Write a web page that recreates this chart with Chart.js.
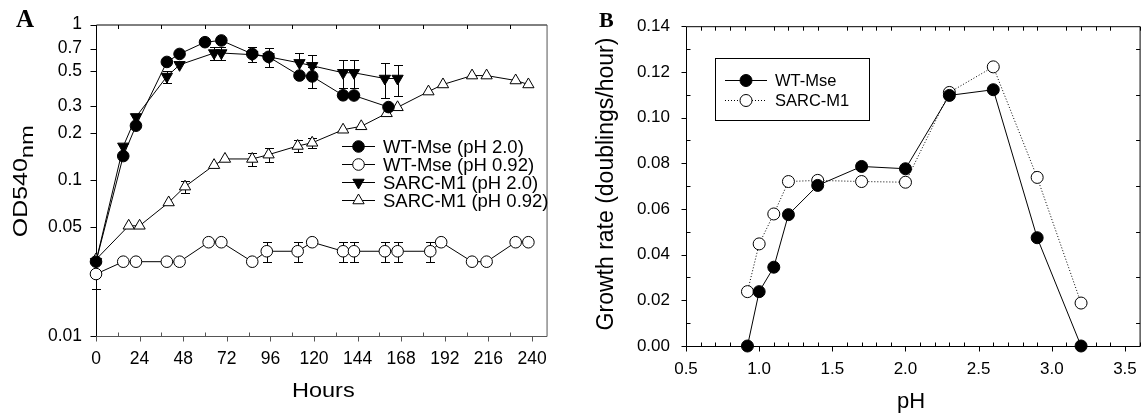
<!DOCTYPE html>
<html>
<head>
<meta charset="utf-8">
<script src="https://cdn.jsdelivr.net/npm/chart.js@4.4.1/dist/chart.umd.min.js"></script>
<style>
  html, body { margin: 0; padding: 0; background: #fff; overflow: hidden; }
  #cA { position: absolute; left: 0; top: 0; }
  #cB { position: absolute; left: 570px; top: 0; }
</style>
</head>
<body>
<canvas id="cA" width="560" height="416"></canvas>
<canvas id="cB" width="580" height="416"></canvas>
<script>
// Panel A: OD540 frente a horas
const horasWT2   = [0, 15, 22, 39, 46, 60, 69, 86, 95, 112, 119, 136, 142, 161];
const odWT2      = [0.030, 0.143, 0.224, 0.575, 0.647, 0.77, 0.79, 0.647, 0.62, 0.47, 0.464, 0.351, 0.35, 0.295];
const errWT2     = [0, 0, 0, 0, 0, 0, 0, 0.07, 0.09, 0, 0.07, 0, 0, 0];

const horasWT092 = [0, 15, 22, 39, 46, 62, 69, 86, 94, 111, 119, 136, 142, 159, 166, 184, 190, 207, 215, 231, 238];
const odWT092    = [0.025, 0.030, 0.030, 0.030, 0.030, 0.040, 0.040, 0.030, 0.035, 0.035, 0.040, 0.035, 0.035, 0.035, 0.035, 0.035, 0.040, 0.030, 0.030, 0.040, 0.040];
const errWT092   = [0.005, 0, 0, 0, 0, 0, 0, 0, 0.005, 0.005, 0, 0.005, 0.005, 0.005, 0.005, 0.005, 0, 0, 0, 0, 0];

const horasM12   = [0, 15, 22, 39, 46, 65, 69, 86, 95, 112, 119, 136, 142, 159, 166];
const odM12      = [0.030, 0.165, 0.255, 0.463, 0.551, 0.656, 0.656, 0.64, 0.62, 0.567, 0.543, 0.49, 0.49, 0.45, 0.45];
const errM12     = [0, 0, 0, 0.04, 0, 0.06, 0.065, 0, 0, 0.085, 0.09, 0.1, 0.1, 0.113, 0.1];

const horasM1092 = [0, 18, 24, 40, 49, 65, 71, 86, 95, 111, 119, 136, 146, 160, 166, 183, 191, 207, 215, 231, 238];
const odM1092    = [0.031, 0.051, 0.051, 0.072, 0.091, 0.125, 0.137, 0.137, 0.146, 0.166, 0.174, 0.211, 0.222, 0.269, 0.294, 0.371, 0.412, 0.47, 0.47, 0.437, 0.412];
const errM1092   = [0, 0, 0, 0, 0.0085, 0, 0, 0.0135, 0.015, 0.015, 0.013, 0, 0, 0, 0, 0, 0, 0, 0, 0, 0];

const ticksOD    = [0.01, 0.05, 0.1, 0.2, 0.3, 0.5, 0.7, 1];
const ticksHoras = [0, 24, 48, 72, 96, 120, 144, 168, 192, 216, 240];

// Panel B: tasa de crecimiento frente a pH
const phWT   = [0.92, 1.0, 1.1, 1.2, 1.4, 1.7, 2.0, 2.3, 2.6, 2.9, 3.2];
const tasaWT = [0.000, 0.0238, 0.0345, 0.0575, 0.0703, 0.0786, 0.0776, 0.1097, 0.1122, 0.0474, 0.000];
const phM1   = [0.92, 1.0, 1.1, 1.2, 1.4, 1.7, 2.0, 2.3, 2.6, 2.9, 3.2];
const tasaM1 = [0.0238, 0.0447, 0.0578, 0.0720, 0.0725, 0.0720, 0.0717, 0.1110, 0.1222, 0.0738, 0.0188];

const ticksPH   = [0.5, 1.0, 1.5, 2.0, 2.5, 3.0, 3.5];
const ticksTasa = [0, 0.02, 0.04, 0.06, 0.08, 0.10, 0.12, 0.14];

const FUENTE = '"Liberation Sans", Arial, sans-serif';
Chart.defaults.font.family = FUENTE;
Chart.defaults.color = '#000';
Chart.defaults.animation = false;

const puntos = (xs, ys) => xs.map((v, i) => ({ x: v, y: ys[i] }));

function marcar(ctx, estilo, x, y, r, relleno, giro) {
    ctx.save();
    ctx.beginPath();
    if (estilo === 'circle') {
        ctx.arc(x, y, r, 0, Math.PI * 2);
    } else {
        const s = giro ? -1 : 1;
        const dx = r * Math.sin(Math.PI * 2 / 3);
        ctx.moveTo(x, y - s * r);
        ctx.lineTo(x + dx, y + s * r * 0.5);
        ctx.lineTo(x - dx, y + s * r * 0.5);
        ctx.closePath();
    }
    ctx.fillStyle = relleno;
    ctx.fill();
    ctx.lineWidth = 1;
    ctx.strokeStyle = '#000';
    ctx.stroke();
    ctx.restore();
}

function dibujarErrores(chart) {
    const { ctx, scales: { x, y } } = chart;
    ctx.save();
    ctx.strokeStyle = '#000';
    ctx.lineWidth = 1;
    chart.data.datasets.forEach(ds => {
        if (!ds.errores) return;
        ds.data.forEach((p, i) => {
            const e = ds.errores[i];
            if (!e) return;
            const px = Math.round(x.getPixelForValue(p.x)) + 0.5;
            const y1 = Math.round(y.getPixelForValue(p.y + e)) + 0.5;
            const y2 = Math.round(y.getPixelForValue(Math.max(p.y - e, 1e-4))) + 0.5;
            ctx.beginPath();
            ctx.moveTo(px, y1); ctx.lineTo(px, y2);
            ctx.moveTo(px - 4.5, y1); ctx.lineTo(px + 4.5, y1);
            ctx.moveTo(px - 4.5, y2); ctx.lineTo(px + 4.5, y2);
            ctx.stroke();
        });
    });
    ctx.restore();
}

function linea(ctx, x1, y1, x2, y2) { ctx.moveTo(x1, y1); ctx.lineTo(x2, y2); }

// Marco y marcas del panel A
function marcoA(chart) {
    const { ctx, chartArea: a, scales: { x, y } } = chart;
    const L = a.left + 0.5, R = a.right + 0.5, T = a.top + 0.5, B = a.bottom + 0.5;
    ctx.save();
    ctx.lineWidth = 1;
    ctx.strokeStyle = '#000';
    ctx.beginPath();
    linea(ctx, L, T, R, T);
    linea(ctx, L, T, L, B);
    ticksOD.forEach(v => {
        const py = Math.round(y.getPixelForValue(v)) + 0.5;
        linea(ctx, L - 6, py, L, py);
    });
    for (let h = 12; h <= 240; h += 24) {
        const px = Math.round(x.getPixelForValue(h)) + 0.5;
        linea(ctx, px, T, px, T + 4);
    }
    ctx.stroke();
    ctx.strokeStyle = '#555';
    ctx.beginPath();
    linea(ctx, L, B, R, B);
    linea(ctx, R, T, R, B);
    for (let h = 0; h <= 240; h += 12) {
        const px = Math.round(x.getPixelForValue(h)) + 0.5;
        if (h % 24 === 0) linea(ctx, px, B, px, B + 5);
        else linea(ctx, px, B, px, B - 4);
    }
    ctx.stroke();
    ctx.restore();
}

function textosA(chart) {
    const { ctx, chartArea: a } = chart;
    ctx.save();
    ctx.fillStyle = '#000';
    // letra del panel
    ctx.font = 'bold 25px "Liberation Serif", serif';
    ctx.textBaseline = 'alphabetic';
    ctx.fillText('A', 16, 27);
    ctx.restore();

    // titulo eje x (algo ensanchado, como en el original)
    ctx.save();
    ctx.fillStyle = '#000';
    ctx.font = '21px ' + FUENTE;
    ctx.textAlign = 'center';
    ctx.translate((a.left + a.right) / 2 + 2, 397);
    ctx.scale(1.12, 1);
    ctx.fillText('Hours', 0, 0);
    ctx.restore();

    // titulo eje y con subindice
    ctx.save();
    ctx.fillStyle = '#000';
    ctx.translate(27, (a.top + a.bottom) / 2 + 1);
    ctx.rotate(-Math.PI / 2);
    ctx.textAlign = 'left';
    ctx.font = '20px ' + FUENTE;
    const w1 = ctx.measureText('OD540').width;
    ctx.font = '19px ' + FUENTE;
    const w2 = ctx.measureText('nm').width;
    const total = w1 + w2;
    ctx.scale(112 / total, 1);
    ctx.font = '20px ' + FUENTE;
    ctx.fillText('OD540', -total / 2, 0);
    ctx.font = '19px ' + FUENTE;
    ctx.fillText('nm', -total / 2 + w1, 6);
    ctx.restore();

    // leyenda
    const filas = [146, 164, 182, 200];
    ctx.save();
    ctx.font = '18.5px ' + FUENTE;
    ctx.textBaseline = 'middle';
    ctx.fillStyle = '#000';
    chart.data.datasets.forEach((ds, i) => {
        const yy = filas[i] + 0.5;
        ctx.beginPath();
        ctx.strokeStyle = '#000';
        ctx.lineWidth = 1;
        linea(ctx, 342, yy, 375, yy);
        ctx.stroke();
        marcar(ctx, ds.pointStyle, 358.5, yy, ds.pointRadius, ds.pointBackgroundColor, ds.pointRotation === 180);
        ctx.fillText(ds.label, 383, yy + 1);
    });
    ctx.restore();
}

// Marco y marcas del panel B
function marcoB(chart) {
    const { ctx, chartArea: a, scales: { x, y } } = chart;
    const L = a.left + 0.5, R = a.right + 0.5, T = a.top + 0.5, B = a.bottom + 0.5;
    ctx.save();
    ctx.lineWidth = 1;
    ctx.strokeStyle = '#000';
    ctx.beginPath();
    ctx.rect(L, T, R - L, B - T);
    for (let k = 5; k <= 36; k++) {
        const px = Math.round(x.getPixelForValue(k / 10)) + 0.5;
        if (k % 5 === 0) {
            linea(ctx, px, B, px, B + 5);
        } else {
            linea(ctx, px, B, px, B - 4);
            linea(ctx, px, T, px, T + 4);
        }
    }
    for (let k = 0; k <= 14; k++) {
        const py = Math.round(y.getPixelForValue(k / 100)) + 0.5;
        if (k % 2 === 0) {
            linea(ctx, L - 5, py, L, py);
        } else {
            linea(ctx, L, py, L + 4, py);
            linea(ctx, R, py, R - 4, py);
        }
    }
    ctx.stroke();
    ctx.restore();
}

function textosB(chart) {
    const { ctx } = chart;
    ctx.save();
    ctx.fillStyle = '#000';
    ctx.font = 'bold 22px "Liberation Serif", serif';
    ctx.fillText('B', 29, 27);
    ctx.font = '22px ' + FUENTE;
    ctx.textAlign = 'center';
    ctx.fillText('pH', 341, 408);
    ctx.translate(43, 184);
    ctx.rotate(-Math.PI / 2);
    ctx.font = '23px ' + FUENTE;
    ctx.fillText('Growth rate (doublings/hour)', 0, 0);
    ctx.restore();

    // leyenda con recuadro
    ctx.save();
    ctx.lineWidth = 1;
    ctx.strokeStyle = '#000';
    ctx.strokeRect(145.5, 58.5, 154, 62);
    ctx.font = '16.5px ' + FUENTE;
    ctx.textBaseline = 'middle';
    ctx.fillStyle = '#000';
    const filas = [80, 99.5];
    chart.data.datasets.forEach((ds, i) => {
        const yy = Math.round(filas[i]) + 0.5;
        ctx.beginPath();
        ctx.setLineDash(ds.borderDash || []);
        linea(ctx, 155, yy, 197, yy);
        ctx.stroke();
        ctx.setLineDash([]);
        marcar(ctx, 'circle', 176, yy, ds.pointRadius, ds.pointBackgroundColor, false);
        ctx.fillText(ds.label, 205, yy + 1);
    });
    ctx.restore();
}

const decorA = {
    id: 'decorA',
    beforeDatasetsDraw(chart) { marcoA(chart); dibujarErrores(chart); },
    afterDraw(chart) { textosA(chart); }
};
const decorB = {
    id: 'decorB',
    beforeDatasetsDraw(chart) { marcoB(chart); },
    afterDraw(chart) { textosB(chart); }
};

function serieA(label, xs, ys, errs, estilo, relleno, giro) {
    return {
        label: label,
        data: puntos(xs, ys),
        errores: errs,
        borderColor: '#000',
        borderWidth: 1,
        tension: 0,
        pointStyle: estilo,
        pointRotation: giro ? 180 : 0,
        pointRadius: estilo === 'circle' ? 5.8 : 6.5,
        pointBorderWidth: 1,
        pointBorderColor: '#000',
        pointBackgroundColor: relleno,
        clip: false
    };
}

new Chart(document.getElementById('cA'), {
    type: 'line',
    data: {
        datasets: [
            serieA('WT-Mse (pH 2.0)', horasWT2, odWT2, errWT2, 'circle', '#000', false),
            serieA('WT-Mse (pH 0.92)', horasWT092, odWT092, errWT092, 'circle', '#fff', false),
            serieA('SARC-M1 (pH 2.0)', horasM12, odM12, errM12, 'triangle', '#000', true),
            serieA('SARC-M1 (pH 0.92)', horasM1092, odM1092, errM1092, 'triangle', '#fff', false)
        ]
    },
    options: {
        responsive: false,
        layout: { padding: { left: 0, right: 12, top: 20, bottom: 0 } },
        plugins: { legend: { display: false }, tooltip: { enabled: false } },
        scales: {
            x: {
                type: 'linear', min: 0, max: 248,
                grid: { display: false, drawTicks: false }, border: { display: false },
                afterBuildTicks: s => { s.ticks = ticksHoras.map(v => ({ value: v })); },
                afterFit: s => { s.height = 80; },
                ticks: { font: { size: 17.5 }, padding: 13, maxRotation: 0, autoSkip: false }
            },
            y: {
                type: 'logarithmic', min: 0.01, max: 1,
                grid: { display: false, drawTicks: false }, border: { display: false },
                afterBuildTicks: s => { s.ticks = ticksOD.map(v => ({ value: v })); },
                afterFit: s => { s.width = 96; },
                ticks: { font: { size: 17.5 }, padding: 14, autoSkip: false, callback: v => String(v) }
            }
        }
    },
    plugins: [decorA]
});

new Chart(document.getElementById('cB'), {
    type: 'line',
    data: {
        datasets: [
            {
                label: 'WT-Mse', data: puntos(phWT, tasaWT),
                borderColor: '#000', borderWidth: 1, tension: 0,
                pointStyle: 'circle', pointRadius: 6, pointBorderWidth: 1,
                pointBorderColor: '#000', pointBackgroundColor: '#000', clip: false
            },
            {
                label: 'SARC-M1', data: puntos(phM1, tasaM1),
                borderColor: '#000', borderWidth: 1, borderDash: [1, 2], tension: 0,
                pointStyle: 'circle', pointRadius: 6, pointBorderWidth: 1,
                pointBorderColor: '#000', pointBackgroundColor: '#fff', clip: false
            }
        ]
    },
    options: {
        responsive: false,
        layout: { padding: { left: 0, right: 7, top: 25, bottom: 0 } },
        plugins: { legend: { display: false }, tooltip: { enabled: false } },
        scales: {
            x: {
                type: 'linear', min: 0.5, max: 3.6,
                grid: { display: false, drawTicks: false }, border: { display: false },
                afterBuildTicks: s => { s.ticks = ticksPH.map(v => ({ value: v })); },
                afterFit: s => { s.height = 70; },
                ticks: { font: { size: 17 }, padding: 13, maxRotation: 0, autoSkip: false, callback: v => v.toFixed(1) }
            },
            y: {
                type: 'linear', min: 0, max: 0.14,
                grid: { display: false, drawTicks: false }, border: { display: false },
                afterBuildTicks: s => { s.ticks = ticksTasa.map(v => ({ value: v })); },
                afterFit: s => { s.width = 116; },
                ticks: { font: { size: 17 }, padding: 16, autoSkip: false, callback: v => v.toFixed(2) }
            }
        }
    },
    plugins: [decorB]
});
</script>
</body>
</html>
